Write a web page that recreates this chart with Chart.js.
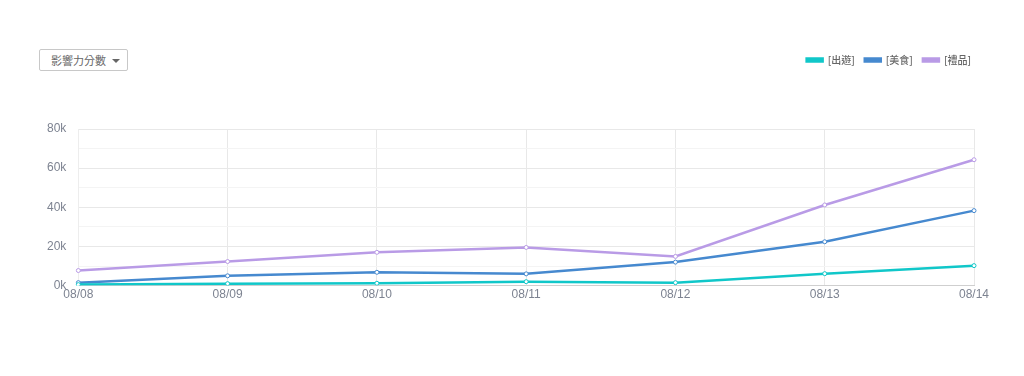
<!DOCTYPE html>
<html>
<head>
<meta charset="utf-8">
<script src="https://cdn.jsdelivr.net/npm/chart.js@4/dist/chart.umd.min.js"></script>
<style>
  html, body { margin:0; padding:0; background:#fff; }
  #wrap { position:relative; width:1024px; height:376px; }
  #chart { position:absolute; left:0; top:0; }
  .dd {
    position:absolute; left:39px; top:49px; width:89px; height:22px;
    border:1px solid #c8c8c8; border-radius:2px; box-sizing:border-box;
    font:11px "Noto Sans CJK TC", "Noto Sans", sans-serif; color:#666;
    line-height:20px; padding-left:11px; background:#fff;
  }
  .dd:after {
    content:''; position:absolute; right:7px; top:9px;
    border-left:4px solid transparent; border-right:4px solid transparent; border-top:4px solid #666;
  }
</style>
</head>
<body>
<div id="wrap">
  <canvas id="chart" width="1024" height="376"></canvas>
  <div class="dd">影響力分數</div>
</div>
<script>
// categories + series
const days = ['08/08','08/09','08/10','08/11','08/12','08/13','08/14'];
const seriesNames = ['[出遊]','[美食]','[禮品]'];
const outing = [500, 1000, 1200, 2000, 1500, 6100, 10200];
const food   = [1500, 5000, 6800, 6000, 12000, 22400, 38300];
const gifts  = [7700, 12300, 17000, 19500, 14900, 41200, 64300];
const yTickLabels = ['0k','20k','40k','60k','80k'];
const colors = ['#10c7c9','#4689cf','#b99be6'];

const tickFont = {family:'"Liberation Sans", Arial, sans-serif', size:12};

function ds(label, data, color){
  return {
    label: label, data: data,
    borderColor: color, backgroundColor: color,
    borderWidth: 2.5, tension: 0,
    pointRadius: 2, pointBorderWidth: 1,
    pointBackgroundColor: '#fff', pointBorderColor: color,
    fill: false
  };
}

// push the plot area down below the legend row, nudge legend to the right
const legendGap = {
  id: 'legendGap',
  beforeInit(chart){
    const fit = chart.legend.fit;
    chart.legend.fit = function(){
      fit.bind(chart.legend)();
      this.height += 54;
    };
  },
  afterLayout(chart){
    chart.legend.left += 7;
    chart.legend.right += 7;
  }
};

new Chart(document.getElementById('chart'), {
  type: 'line',
  data: {
    labels: days,
    datasets: [
      ds(seriesNames[0], outing, colors[0]),
      ds(seriesNames[1], food, colors[1]),
      ds(seriesNames[2], gifts, colors[2])
    ]
  },
  options: {
    responsive: false,
    animation: false,
    layout: {padding: {left: 35, right: 50, top: 45, bottom: 72}},
    plugins: {
      tooltip: {enabled: false},
      legend: {
        position: 'top', align: 'end',
        labels: {
          boxWidth: 16, boxHeight: 3, padding: 10,
          color: '#666',
          font: {family:'"Noto Sans CJK TC", "Noto Sans", sans-serif', size: 10, weight: '500'}
        }
      }
    },
    scales: {
      x: {
        offset: false,
        grid: {color: '#e8e8e8', drawTicks: false, lineWidth: 1},
        border: {color: '#cfcfcf', width: 1},
        ticks: {color: '#7d8391', font: tickFont, padding: 2, maxRotation: 0, autoSkip: false}
      },
      y: {
        min: 0, max: 80000,
        grid: {
          drawTicks: false,
          color: ctx => (ctx.tick && ctx.tick.value % 20000 === 0) ? '#e8e8e8' : '#f4f4f4'
        },
        border: {color: '#ededed'},
        ticks: {
          stepSize: 10000, color: '#7d8391', font: tickFont, padding: 12,
          callback: v => v % 20000 === 0 ? yTickLabels[v / 20000] : ''
        }
      }
    }
  },
  plugins: [legendGap]
});
</script>
</body>
</html>
